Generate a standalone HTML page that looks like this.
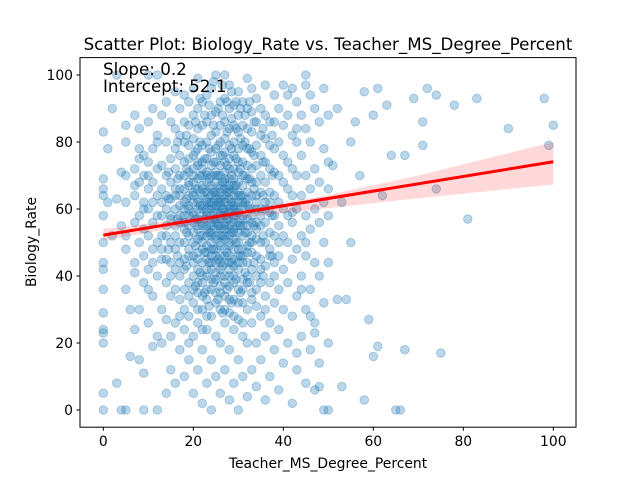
<!DOCTYPE html>
<html><head><meta charset="utf-8"><style>
body{margin:0;background:#fff;}
svg text{font-family:"DejaVu Sans","Liberation Sans",sans-serif;}
</style></head><body>
<svg id="chart" width="640" height="480" xmlns="http://www.w3.org/2000/svg">
<rect width="640" height="480" fill="#fff"/>
<text x="328" y="50" font-size="16.7" text-anchor="middle">Scatter Plot: Biology_Rate vs. Teacher_MS_Degree_Percent</text>
<g id="points"></g>
<g id="reg"></g>
<rect x="80" y="57.6" width="496" height="369.6" fill="none" stroke="#000" stroke-width="1"/>
<g id="xticks"></g>
<g id="yticks"></g>
<text x="328" y="468" font-size="13.9" text-anchor="middle">Teacher_MS_Degree_Percent</text>
<text x="0" y="0" font-size="13.9" text-anchor="middle" transform="translate(36,242) rotate(-90)">Biology_Rate</text>
<text x="103" y="75" font-size="16.7">Slope: 0.2</text>
<text x="103" y="92" font-size="16.7">Intercept: 52.1</text>
</svg>
<script>
const xTicks=[0,20,40,60,80,100];
const yTicks=[0,20,40,60,80,100];
const slope=[0.219];
const intercept=[52.2];
const bandX=[0,10,20,27,35,50,70,100];
const bandLo=[50.6,53.0,55.3,56.8,58.0,60.3,63.2,67.3];
const bandHi=[54.0,55.6,57.6,59.0,60.6,64.2,70.0,80.0];
const outX=[100,99,98,90,83,81,78,75,74,74,72,71,71,69,67,67,66,65,64,63,62,61,61,60,60,59,58,58,57,56,55,55,54,53,53,52,52,51,50,50,49,48,47,47,46,45,45,44,43,43,42,
0,0,0,0,0,0,0,0,0,0,0,0,0,0,0,1,1,2,2,3,3,3,4,4,4,5,5,5,6,6,7,7,7,8,8,9,9,9,10,10,10,11,11,12,12,12];
const outY=[85,79,93,84,93,57,91,17,66,94,96,86,79,93,76,18,0,0,76,91,64,96,19,88,16,27,3,95,70,86,80,50,33,7,62,33,90,73,66,0,0,7,6,23,28,50,97,36,17,84,59,
0,5,24,29,36,42,50,58,66,69,83,20,23,44,64,78,62,52,90,8,63,100,0,55,71,0,48,85,16,30,41,24,67,15,75,0,11,60,100,36,70,19,48,100,0,82];
const colX=[5,7,8,9,10,11,12,13,14,15,16,17,18,19,20,21,22,23,24,25,26,27,28,29,30,31,32,33,34,35,36,37,38,39,40,41,42,43,44,45,46,47,48,49,50];
const colY=[
[36,52,62,70,80],[44,56,64,72,88],[30,50,58,68,78,84],[38,46,54,62,70,76],[26,42,52,60,66,74,86],[34,44,56,62,68,78,90],[22,40,50,58,64,72,80],
[30,45,52,58,66,73,88,20,62,48],
[5,38,55,60,70,80,45,64,27,52,92],
[12,34,50,57,63,68,75,86,44,22,58,40],
[8,26,42,48,55,60,66,72,78,84,95,36,52,64],
[18,33,44,50,56,61,66,70,76,82,90,40,58,64,28],
[10,24,36,45,50,54,58,62,66,70,74,80,86,94,42,60,30,56],
[15,28,38,46,52,55,58,61,64,67,71,75,79,85,92,48,60,34,20,68],
[5,22,32,40,46,50,53,56,59,62,65,68,72,76,81,88,96,44,58,64,36,70],
[12,26,35,42,47,51,54,57,60,63,66,69,73,78,84,90,99,38,55,62,45,74,30],
[2,18,30,38,44,48,52,55,58,61,64,67,70,74,79,85,92,40,56,60,50,66,72,34,24],
[8,24,33,40,45,49,52,55,58,60,62,65,68,71,75,80,86,94,42,54,59,63,70,47,36,28],
[0,15,28,36,42,46,50,53,56,58,60,62,64,67,70,73,77,82,88,96,44,55,61,66,39,52,48],
[10,22,32,39,44,48,51,54,57,59,61,63,65,68,71,74,78,83,89,100,46,56,60,64,41,70,35,52],
[5,20,30,37,42,46,49,52,55,57,59,61,63,65,67,70,73,76,80,85,92,44,54,58,62,66,40,50,35],
[12,26,34,40,44,48,51,54,56,58,60,62,64,66,68,71,74,77,81,86,93,100,46,55,59,63,69,52,38,30],
[3,18,29,37,42,46,49,52,55,57,59,61,63,65,67,69,72,75,79,84,90,97,44,54,60,66,50,40,33],
[8,24,33,40,45,48,51,54,56,58,60,62,64,66,69,72,76,80,85,91,43,53,57,61,67,38,28],
[0,15,27,36,42,46,50,53,56,59,62,65,68,71,74,78,83,88,95,44,55,60,64,48,32],
[10,22,32,39,44,48,52,55,58,61,64,67,70,74,79,85,92,46,57,62,36,26],
[4,20,30,38,44,49,53,57,61,65,69,73,78,84,90,99,47,55,63,40],
[12,26,35,42,47,52,56,60,64,68,72,77,83,89,96,50,58,33],
[7,20,31,40,46,51,56,60,64,68,73,79,86,93,54,62,36],
[15,28,38,45,50,55,60,65,70,76,82,90,58,42],
[3,22,34,43,50,56,62,68,74,81,88,97,60,30],
[10,26,38,46,53,59,65,72,79,86,48,62],
[18,32,44,52,58,64,71,78,86,94,40],
[6,24,36,46,55,62,70,80,90,50],
[14,30,42,52,60,68,76,85,97],
[20,38,50,58,66,74,88,94],
[2,28,45,56,64,72,82,96],
[12,34,48,60,70,80,92],
[22,40,52,64,76,88],
[8,30,46,58,70,84,100],
[18,36,54,66,80,94],
[26,44,60,72,90],
[14,40,56,68,86],
[32,50,62,78,96],
[20,44,58,74,88]];
const midX=[14.5,16.5,18.5,20.5,21.5,22.5,23.5,24.5,25.5,26.5,27.5,28.5,29.5,30.5,31.5,32.5,33.5,35.5,37.5];
const midY=[
[48,63,71],
[46,57,69,80],
[43,53,63,72,82],
[37,49,57,66,77,86],
[41,52,61,70,80,93],
[35,47,57,65,75,88],
[31,44,53,62,69,78,91],
[38,48,57,65,74,85,98],
[33,45,55,62,70,79,90],
[29,43,52,60,68,76,88,97],
[36,47,57,65,73,83,92],
[32,44,53,62,70,78,87,95],
[39,50,59,67,75,84,92],
[35,46,55,64,72,81,90],
[41,53,62,70,80,88],
[38,50,60,69,78,92],
[44,55,66,76,86],
[40,52,64,74,84],
[46,58,70,82]];
const X=v=>103.3+4.5*v, Y=v=>410-3.35*v;
const NS='http://www.w3.org/2000/svg';
const P=document.getElementById('points');
function dot(x,y){
  const c=document.createElementNS(NS,'circle');
  c.setAttribute('cx',X(x));c.setAttribute('cy',Y(y));c.setAttribute('r',4.3);
  c.setAttribute('fill','#1f77b4');c.setAttribute('fill-opacity','0.3');
  c.setAttribute('stroke','#1f77b4');c.setAttribute('stroke-opacity','0.3');c.setAttribute('stroke-width','1');
  
  
  P.appendChild(c);
}
for(let i=0;i<Math.min(outX.length,outY.length);i++)dot(outX[i],outY[i]);
colX.forEach((x,i)=>{(colY[i]||[]).forEach(y=>dot(x,y));});
midX.forEach((x,i)=>{(midY[i]||[]).forEach(y=>dot(x,y));});
const R=document.getElementById('reg');
let d='';
bandX.forEach((x,i)=>{d+=(i?'L':'M')+X(x)+','+Y(bandHi[i]);});
for(let i=bandX.length-1;i>=0;i--)d+='L'+X(bandX[i])+','+Y(bandLo[i]);
const band=document.createElementNS(NS,'path');
band.setAttribute('d',d+'Z');band.setAttribute('fill','#ff0000');band.setAttribute('fill-opacity','0.15');


R.appendChild(band);
const ln=document.createElementNS(NS,'line');
ln.setAttribute('x1',X(0));ln.setAttribute('y1',Y(intercept[0]));
ln.setAttribute('x2',X(100));ln.setAttribute('y2',Y(intercept[0]+slope[0]*100));
ln.setAttribute('stroke','#ff0000');ln.setAttribute('stroke-width','3');


R.appendChild(ln);
const XT=document.getElementById('xticks');
xTicks.forEach(t=>{
  const l=document.createElementNS(NS,'line');
  l.setAttribute('x1',X(t));l.setAttribute('x2',X(t));l.setAttribute('y1',427.2);l.setAttribute('y2',430.7);l.setAttribute('stroke','#000');
  
  
  XT.appendChild(l);
  const tx=document.createElementNS(NS,'text');
  tx.setAttribute('x',X(t));tx.setAttribute('y',446);tx.setAttribute('font-size','13.9');tx.setAttribute('text-anchor','middle');
  tx.textContent=t;
  
  
  XT.appendChild(tx);
});
const YT=document.getElementById('yticks');
yTicks.forEach(t=>{
  const l=document.createElementNS(NS,'line');
  l.setAttribute('x1',76.5);l.setAttribute('x2',80);l.setAttribute('y1',Y(t));l.setAttribute('y2',Y(t));l.setAttribute('stroke','#000');
  
  
  YT.appendChild(l);
  const tx=document.createElementNS(NS,'text');
  tx.setAttribute('x',73);tx.setAttribute('y',Y(t)+5);tx.setAttribute('font-size','13.9');tx.setAttribute('text-anchor','end');
  tx.textContent=t;
  
  
  YT.appendChild(tx);
});
</script>
</body></html>
